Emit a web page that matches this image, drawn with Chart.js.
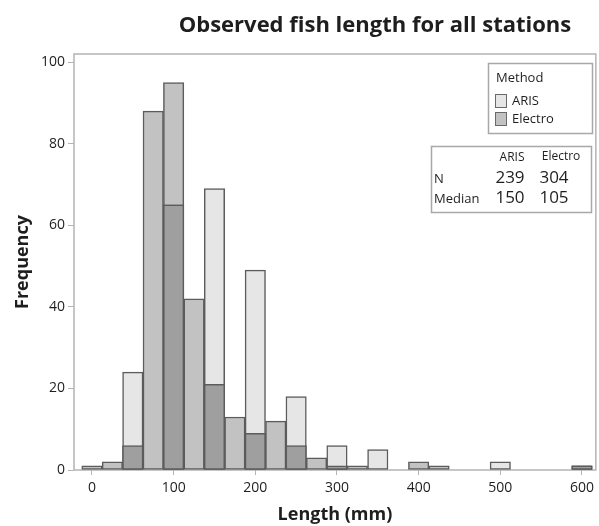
<!DOCTYPE html>
<html>
<head>
<meta charset="utf-8">
<script src="https://cdn.jsdelivr.net/npm/chart.js@4.4.1/dist/chart.umd.min.js"></script>
<style>
html, body { margin: 0; padding: 0; background: #fff; }
#wrap { width: 599px; height: 526px; }
</style>
</head>
<body>
<div id="wrap"><canvas id="histChart" width="599" height="526"></canvas></div>
<script>
// histogram bins (mm), width 25
const binCenters = [0, 25, 50, 75, 100, 125, 150, 175, 200, 225, 250, 275, 300,
                    325, 350, 375, 400, 425, 450, 475, 500, 525, 550, 575, 600];
const arisCounts = [0, 0, 24, 0, 65, 0, 69, 0, 49, 0, 18, 0, 6,
                    0, 5, 0, 0, 0, 0, 0, 2, 0, 0, 0, 1];
const electroCounts = [1, 2, 6, 88, 95, 42, 21, 13, 9, 12, 6, 3, 1,
                       1, 0, 0, 2, 1, 0, 0, 0, 0, 0, 0, 1];

const xTickValues = [0, 100, 200, 300, 400, 500, 600];
const yTickValues = [0, 20, 40, 60, 80, 100];

const groupNames = ['ARIS', 'Electro'];
const statN = [239, 304];
const statMedian = [150, 105];

const FONT = '"Open Sans", "Noto Sans", sans-serif';
const TEXT = '#1e1e1e';
const ARIS_FILL = '#e6e6e6';
const ELECTRO_FILL = '#c2c2c2';
const OVERLAP_FILL = '#9f9f9f';
const BAR_EDGE = '#5c5c5c';

function toPoints(counts) {
    return binCenters.map((x, i) => ({ x: x, y: counts[i] > 0 ? counts[i] : null }));
}

// where both methods have fish, the shared part is shown darker
const overlapCounts = binCenters.map((x, i) => Math.min(arisCounts[i], electroCounts[i]));

const boxPlugin = {
    id: 'minitabBoxes',
    beforeDatasetsDraw(chart) {
        const ctx = chart.ctx;
        const a = chart.chartArea;
        ctx.save();
        ctx.strokeStyle = '#b4b4b4';
        ctx.lineWidth = 1.5;
        ctx.strokeRect(a.left, a.top, a.right - a.left, a.bottom - a.top);
        ctx.restore();
    },
    afterDraw(chart) {
        const ctx = chart.ctx;
        ctx.save();

        // title
        ctx.fillStyle = TEXT;
        ctx.font = 'bold 22px ' + FONT;
        ctx.textAlign = 'center';
        ctx.textBaseline = 'alphabetic';
        ctx.fillText('Observed fish length for all stations', 375, 32);

        // legend box
        ctx.strokeStyle = '#a8a8a8';
        ctx.lineWidth = 1.5;
        ctx.strokeRect(488.5, 63.5, 104, 70);
        ctx.textAlign = 'left';
        ctx.textBaseline = 'middle';
        ctx.font = '13px ' + FONT;
        ctx.fillText('Method', 496, 78);
        const fills = [ARIS_FILL, ELECTRO_FILL];
        groupNames.forEach((name, i) => {
            const y = 94 + i * 18;
            ctx.fillStyle = fills[i];
            ctx.fillRect(495, y, 11, 13);
            ctx.strokeStyle = '#6a6a6a';
            ctx.lineWidth = 1;
            ctx.strokeRect(495.5, y + 0.5, 11, 13);
            ctx.fillStyle = TEXT;
            ctx.fillText(name, 512, y + 7);
        });

        // stats table
        ctx.strokeStyle = '#a8a8a8';
        ctx.lineWidth = 1.5;
        ctx.strokeRect(431.5, 146.5, 160, 66);
        ctx.font = '12px ' + FONT;
        ctx.textAlign = 'center';
        ctx.fillText(groupNames[0], 512, 158);
        ctx.fillText(groupNames[1], 561, 157);
        ctx.textAlign = 'left';
        ctx.font = '13px ' + FONT;
        ctx.fillText('N', 434, 179);
        ctx.fillText('Median', 434, 199);
        ctx.font = '17px ' + FONT;
        ctx.textAlign = 'center';
        ctx.fillText(String(statN[0]), 510, 178);
        ctx.fillText(String(statN[1]), 554, 178);
        ctx.fillText(String(statMedian[0]), 510, 198);
        ctx.fillText(String(statMedian[1]), 554, 198);

        ctx.restore();
    }
};

const ctx = document.getElementById('histChart').getContext('2d');
const histChart = new Chart(ctx, {
    type: 'bar',
    data: {
        datasets: [{
            label: 'Both',
            data: toPoints(overlapCounts),
            backgroundColor: OVERLAP_FILL,
            borderColor: BAR_EDGE,
            borderWidth: 1.5,
            order: 0
        }, {
            label: 'ARIS',
            data: toPoints(arisCounts),
            backgroundColor: ARIS_FILL,
            borderColor: BAR_EDGE,
            borderWidth: 1.5,
            order: 1
        }, {
            label: 'Electro',
            data: toPoints(electroCounts),
            backgroundColor: ELECTRO_FILL,
            borderColor: BAR_EDGE,
            borderWidth: 1.5,
            order: 2
        }]
    },
    options: {
        responsive: false,
        animation: false,
        devicePixelRatio: 1,
        grouped: false,
        barPercentage: 1,
        categoryPercentage: 1,
        borderSkipped: false,
        layout: {
            padding: { top: 54, right: 1, left: 0, bottom: 0 }
        },
        plugins: {
            legend: { display: false },
            tooltip: { enabled: false },
            title: { display: false }
        },
        scales: {
            x: {
                type: 'linear',
                offset: false,
                min: -22,
                max: 617,
                afterBuildTicks: (s) => { s.ticks = xTickValues.map(v => ({ value: v })); },
                afterFit: (s) => { s.height = 56; },
                border: { display: false },
                grid: {
                    offset: false,
                    drawOnChartArea: false,
                    drawTicks: true,
                    tickLength: 5,
                    color: '#b4b4b4'
                },
                ticks: {
                    color: TEXT,
                    padding: 5,
                    maxRotation: 0,
                    font: { family: FONT, size: 14 }
                },
                title: {
                    display: true,
                    text: 'Length (mm)',
                    color: TEXT,
                    padding: { top: 0, bottom: 0 },
                    font: { family: FONT, size: 18, weight: 'bold' }
                }
            },
            y: {
                min: 0,
                max: 102,
                afterBuildTicks: (s) => { s.ticks = yTickValues.map(v => ({ value: v })); },
                afterFit: (s) => { s.width = 74; },
                border: { display: false },
                grid: {
                    drawOnChartArea: false,
                    drawTicks: true,
                    tickLength: 6,
                    color: '#b4b4b4'
                },
                ticks: {
                    color: TEXT,
                    padding: 3,
                    font: { family: FONT, size: 14 }
                },
                title: {
                    display: true,
                    text: 'Frequency',
                    color: TEXT,
                    padding: { top: 12, bottom: 0 },
                    font: { family: FONT, size: 18, weight: 'bold' }
                }
            }
        }
    },
    plugins: [boxPlugin]
});
</script>
</body>
</html>
